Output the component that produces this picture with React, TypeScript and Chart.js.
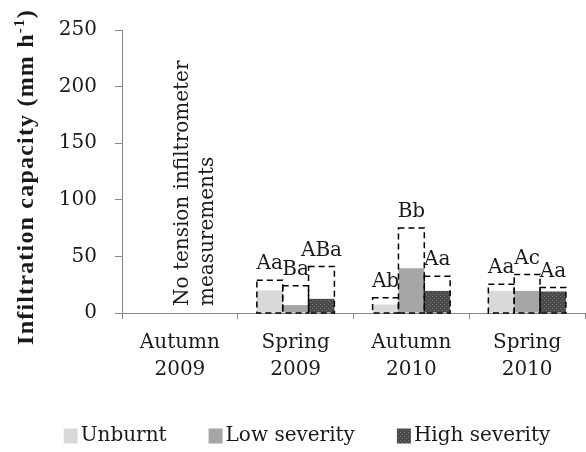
import React, { useEffect, useRef } from "react";
import { Chart, registerables } from "chart.js";
Chart.register(...registerables);

const categories = [["Autumn", "2009"], ["Spring", "2009"], ["Autumn", "2010"], ["Spring", "2010"]];
const seriesNames = ["Unburnt", "Low severity", "High severity"];
const unburntMean = [null, 20, 7.5, 19.5];
const unburntUpper = [null, 29, 13.5, 25.5];
const lowMean = [null, 7, 39.5, 19.5];
const lowUpper = [null, 24, 75, 34];
const highMean = [null, 12.5, 19.5, 19];
const highUpper = [null, 41, 32.5, 22.5];
const unburntLetters = ["", "Aa", "Ab", "Aa"];
const lowLetters = ["", "Ba", "Bb", "Ac"];
const highLetters = ["", "ABa", "Aa", "Aa"];
const yMin = 0;
const yMax = 250;
const yStep = 50;
const noteLines = ["No tension infiltrometer", "measurements"];
const yTitleMain = "Infiltration capacity (mm h";
const yTitleSup = "-1";
const yTitleEnd = ")";

const SERIF = "'DejaVu Serif', serif";
const TEXT = "#1a1a1a";

export default function App() {
  const ref = useRef<HTMLCanvasElement>(null);
  useEffect(() => {
    const canvas = ref.current!;
    const ctx = canvas.getContext("2d")!;
    const pc = document.createElement("canvas");
    pc.width = 4; pc.height = 4;
    const pg = pc.getContext("2d")!;
    pg.fillStyle = "#4a4a4a"; pg.fillRect(0, 0, 4, 4);
    pg.fillStyle = "#777777"; pg.fillRect(0, 0, 1, 1); pg.fillRect(2, 2, 1, 1);
    const pattern = ctx.createPattern(pc, "repeat")!;

    const uppers = [unburntUpper, lowUpper, highUpper];
    const letters = [unburntLetters, lowLetters, highLetters];

    const dashPlugin = {
      id: "dashOutline",
      afterDatasetsDraw(chart: any) {
        const c = chart.ctx;
        const y = chart.scales.y;
        c.save();
        c.strokeStyle = "#000";
        c.lineWidth = 1.5;
        c.setLineDash([6, 4]);
        chart.data.datasets.forEach((_: any, i: number) => {
          const meta = chart.getDatasetMeta(i);
          meta.data.forEach((el: any, j: number) => {
            const up = uppers[i][j];
            if (up == null) return;
            const top = y.getPixelForValue(up);
            const base = y.getPixelForValue(0);
            const w = el.width;
            c.strokeRect(el.x - w / 2, top, w, base - top);
          });
        });
        c.setLineDash([]);
        c.fillStyle = TEXT;
        c.font = `20px ${SERIF}`;
        c.textAlign = "center";
        c.textBaseline = "alphabetic";
        chart.data.datasets.forEach((_: any, i: number) => {
          const meta = chart.getDatasetMeta(i);
          meta.data.forEach((el: any, j: number) => {
            const up = uppers[i][j];
            if (up == null) return;
            c.fillText(letters[i][j], el.x, y.getPixelForValue(up) - 11);
          });
        });
        c.restore();
      },
      afterDraw(chart: any) {
        const c = chart.ctx;
        const x = chart.scales.x;
        const y = chart.scales.y;
        c.save();
        c.fillStyle = TEXT;
        // note for first category
        const cx = x.getPixelForValue(0);
        const startY = y.getPixelForValue(0) - 7;
        c.font = `20px ${SERIF}`;
        c.textAlign = "left";
        c.textBaseline = "middle";
        noteLines.forEach((t, k) => {
          c.save();
          c.translate(cx + 3 + k * 25, startY);
          c.rotate(-Math.PI / 2);
          c.fillText(t, 0, 0);
          c.restore();
        });

        // legend
        const ds = chart.data.datasets;
        c.font = `20px ${SERIF}`;
        c.textBaseline = "middle";
        const box = 14;
        const textGap = 3;
        const itemGap = 42;
        const widths = seriesNames.map((n) => box + textGap + c.measureText(n).width);
        const total = widths.reduce((a, b) => a + b, 0) + itemGap * (widths.length - 1);
        let lx = 307 - total / 2;
        const ly = 436;
        seriesNames.forEach((n, i) => {
          c.fillStyle = ds[i].backgroundColor;
          c.fillRect(lx, ly - 7.5, box, 15);
          c.fillStyle = TEXT;
          c.fillText(n, lx + box + textGap, ly);
          lx += widths[i] + itemGap;
        });

        // y title with superscript
        const fMain = `bold 24px 'Liberation Serif', serif`;
        const fSup = `bold 15px 'Liberation Serif', serif`;
        (c as any).letterSpacing = "1.2px";
        c.font = fMain;
        const w1 = c.measureText(yTitleMain).width;
        const w3 = c.measureText(yTitleEnd).width;
        c.font = fSup;
        const w2 = c.measureText(yTitleSup).width;
        const tot = w1 + w2 + w3;
        c.translate(27, 177);
        c.rotate(-Math.PI / 2);
        c.textBaseline = "middle";
        c.textAlign = "left";
        let px = -tot / 2;
        c.fillStyle = TEXT;
        c.font = fMain;
        c.fillText(yTitleMain, px, 0);
        px += w1;
        c.font = fSup;
        c.fillText(yTitleSup, px, -7);
        px += w2;
        c.font = fMain;
        c.fillText(yTitleEnd, px, 0);
        (c as any).letterSpacing = "0px";
        c.restore();
      },
    };

    const chart = new Chart(canvas, {
      type: "bar",
      data: {
        labels: categories,
        datasets: [
          { label: seriesNames[0], data: unburntMean, backgroundColor: "#d9d9d9", borderWidth: 0 },
          { label: seriesNames[1], data: lowMean, backgroundColor: "#a6a6a6", borderWidth: 0 },
          { label: seriesNames[2], data: highMean, backgroundColor: pattern, borderWidth: 0 },
        ],
      },
      options: {
        responsive: false,
        animation: false,
        events: [],
        layout: { padding: { top: 19, right: 1, left: 0, bottom: 0 } },
        datasets: { bar: { categoryPercentage: 0.67, barPercentage: 1.0 } },
        plugins: {
          legend: { display: false },
          tooltip: { enabled: false },
        },
        scales: {
          x: {
            grid: { display: true, drawOnChartArea: false, offset: true, tickLength: 6, color: "#888" },
            border: { color: "#888", width: 1 },
            ticks: { color: TEXT, font: { family: SERIF, size: 20, lineHeight: 1.35 }, padding: 10, maxRotation: 0 },
            afterFit(s: any) {
              s.height = 452 - 313;
            },
          },
          y: {
            min: yMin,
            max: yMax,
            ticks: { stepSize: yStep, color: TEXT, font: { family: SERIF, size: 20 }, padding: 18 },
            grid: { display: true, drawOnChartArea: false, tickLength: 7, color: "#888" },
            border: { color: "#888", width: 1 },
            afterFit(s: any) {
              s.width = 122;
            },
          },
        },
      },
      plugins: [dashPlugin],
    } as any);
    return () => chart.destroy();
  }, []);
  return (
    <div style={{ position: "fixed", left: 0, top: 0, width: 586, height: 452, background: "#fff" }}>
      <canvas ref={ref} width={586} height={452} style={{ display: "block" }} />
    </div>
  );
}
